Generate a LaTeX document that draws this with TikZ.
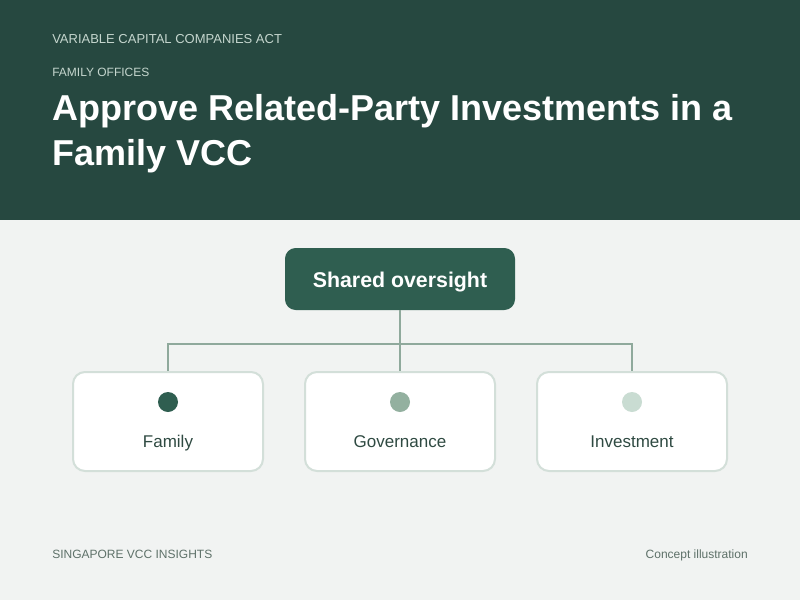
\documentclass[tikz,border=0pt]{standalone}
\usepackage{fontspec}
\setmainfont{Liberation Sans}
\definecolor{hdr}{HTML}{264840}
\definecolor{bg}{HTML}{F1F3F2}
\definecolor{topbox}{HTML}{2F5E50}
\definecolor{conn}{HTML}{8FA99C}
\definecolor{cardline}{HTML}{D3DFD9}
\definecolor{dotA}{HTML}{2F5E50}
\definecolor{dotB}{HTML}{93B09F}
\definecolor{dotC}{HTML}{C9DCD2}
\definecolor{lbl}{HTML}{2F4A42}
\definecolor{foot}{HTML}{5E7169}
\definecolor{kicker}{HTML}{C5D6CE}
\tikzset{
  card/.style={draw=cardline, line width=1.5pt, fill=white, rounded corners=9pt, minimum width=142.5pt, minimum height=74.25pt, inner sep=0pt},
  topnode/.style={fill=topbox, rounded corners=8pt, minimum width=172.5pt, minimum height=46.5pt, inner sep=0pt},
  toptext/.style={text=white, font=\bfseries\fontsize{16pt}{19pt}\selectfont, inner sep=0pt},
  link/.style={draw=conn, line width=2.2pt},
  cardlabel/.style={text=lbl, font=\fontsize{12.75pt}{15pt}\selectfont, inner sep=0pt},
  dot/.style={circle, minimum size=15pt, inner sep=0pt},
}
\begin{document}
\begin{tikzpicture}[x=0.75pt,y=-0.75pt]
\useasboundingbox (0,0) rectangle (800,600);
\fill[bg] (0,0) rectangle (800,600);
\fill[hdr] (0,0) rectangle (800,220);
\node[anchor=base west, inner sep=0pt, text=kicker, font=\fontsize{9.75pt}{12pt}\selectfont] (k1) at (52,43) {VARIABLE CAPITAL COMPANIES ACT};
\node[anchor=base west, inner sep=0pt, text=kicker, font=\fontsize{9pt}{11pt}\selectfont] (k2) at (52,76) {FAMILY OFFICES};
\node[anchor=base west, inner sep=0pt, text=white, font=\bfseries\fontsize{27pt}{32pt}\selectfont] (t1) at (52,120) {Approve Related-Party Investments in a};
\node[anchor=base west, inner sep=0pt, text=white, font=\bfseries\fontsize{27pt}{32pt}\selectfont] (t2) at (52,165) {Family VCC};

\node[topnode] (top) at (400,279) {};
\node[toptext, anchor=base] (toplabel) at (400,287) {Shared oversight};
\node[card] (c1) at (168,421.5) {};
\node[card] (c2) at (400,421.5) {};
\node[card] (c3) at (632,421.5) {};
\coordinate (j) at (400,344);
\draw[link] (top.south) -- (j);
\draw[link] (c1.north) |- (j) -| (c3.north);
\draw[link] (j) -- (c2.north);
\node[dot, fill=dotA] (d1) at (168,402) {};
\node[dot, fill=dotB] (d2) at (400,402) {};
\node[dot, fill=dotC] (d3) at (632,402) {};
\node[cardlabel, anchor=base] (l1) at (168,447) {Family};
\node[cardlabel, anchor=base] (l2) at (400,447) {Governance};
\node[cardlabel, anchor=base] (l3) at (632,447) {Investment};

\node[anchor=base west, inner sep=0pt, text=foot, font=\fontsize{9pt}{11pt}\selectfont] (f1) at (52,558) {SINGAPORE VCC INSIGHTS};
\node[anchor=base east, inner sep=0pt, text=foot, font=\fontsize{9pt}{11pt}\selectfont] (f2) at (748,558) {Concept illustration};
\end{tikzpicture}
\end{document}
